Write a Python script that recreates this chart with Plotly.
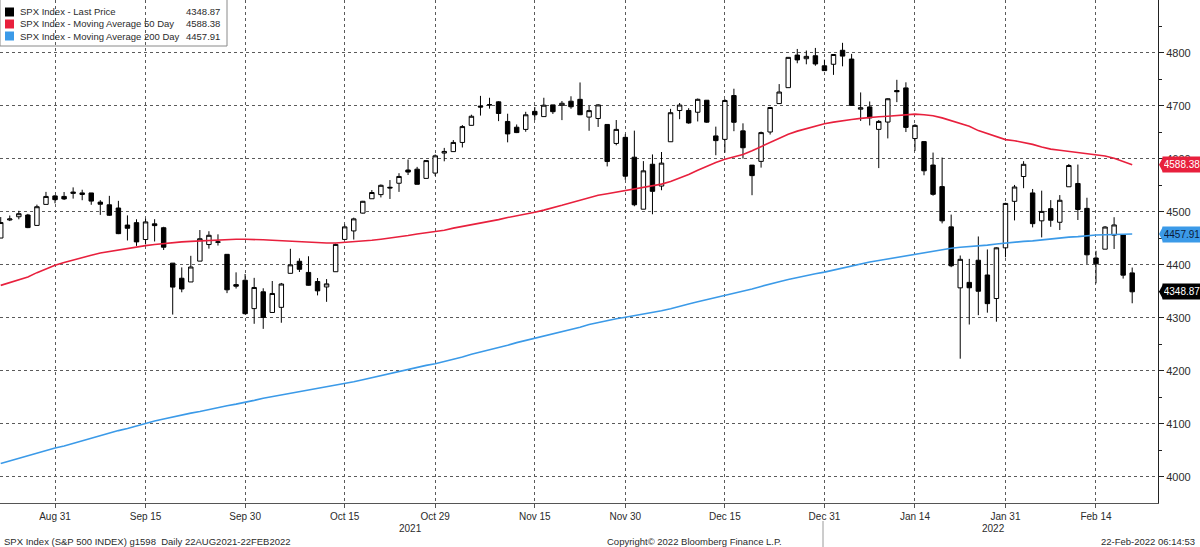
import plotly.graph_objects as go

# ---------------- data ----------------
dates = [
    "2021-08-23", "2021-08-24", "2021-08-25", "2021-08-26", "2021-08-27", "2021-08-30", "2021-08-31",
    "2021-09-01", "2021-09-02", "2021-09-03", "2021-09-07", "2021-09-08", "2021-09-09", "2021-09-10",
    "2021-09-13", "2021-09-14", "2021-09-15", "2021-09-16", "2021-09-17", "2021-09-20", "2021-09-21",
    "2021-09-22", "2021-09-23", "2021-09-24", "2021-09-27", "2021-09-28", "2021-09-29", "2021-09-30",
    "2021-10-01", "2021-10-04", "2021-10-05", "2021-10-06", "2021-10-07", "2021-10-08", "2021-10-11",
    "2021-10-12", "2021-10-13", "2021-10-14", "2021-10-15", "2021-10-18", "2021-10-19", "2021-10-20",
    "2021-10-21", "2021-10-22", "2021-10-25", "2021-10-26", "2021-10-27", "2021-10-28", "2021-10-29",
    "2021-11-01", "2021-11-02", "2021-11-03", "2021-11-04", "2021-11-05", "2021-11-08", "2021-11-09",
    "2021-11-10", "2021-11-11", "2021-11-12", "2021-11-15", "2021-11-16", "2021-11-17", "2021-11-18",
    "2021-11-19", "2021-11-22", "2021-11-23", "2021-11-24", "2021-11-26", "2021-11-29", "2021-11-30",
    "2021-12-01", "2021-12-02", "2021-12-03", "2021-12-06", "2021-12-07", "2021-12-08", "2021-12-09",
    "2021-12-10", "2021-12-13", "2021-12-14", "2021-12-15", "2021-12-16", "2021-12-17", "2021-12-20",
    "2021-12-21", "2021-12-22", "2021-12-23", "2021-12-27", "2021-12-28", "2021-12-29", "2021-12-30",
    "2021-12-31",
    "2022-01-03", "2022-01-04", "2022-01-05", "2022-01-06", "2022-01-07", "2022-01-10", "2022-01-11",
    "2022-01-12", "2022-01-13", "2022-01-14", "2022-01-18", "2022-01-19", "2022-01-20", "2022-01-21",
    "2022-01-24", "2022-01-25", "2022-01-26", "2022-01-27", "2022-01-28", "2022-01-31",
    "2022-02-01", "2022-02-02", "2022-02-03", "2022-02-04", "2022-02-07", "2022-02-08", "2022-02-09",
    "2022-02-10", "2022-02-11", "2022-02-14", "2022-02-15", "2022-02-16", "2022-02-17", "2022-02-18",
]

opens = [
    4450.29, 4484.40, 4490.45, 4493.75, 4474.10, 4513.76, 4529.75,
    4528.80, 4534.48, 4532.42, 4535.38, 4518.09, 4513.02, 4506.92, 4474.81, 4479.33, 4447.49, 4477.09,
    4469.74, 4402.95, 4374.45, 4367.43, 4406.75, 4438.04, 4442.12, 4419.54, 4362.41, 4370.67,
    4317.16, 4348.84, 4309.87, 4319.57, 4383.73, 4406.51, 4385.44, 4368.31, 4358.01, 4386.75, 4447.69,
    4463.72, 4497.34, 4524.42, 4532.24, 4546.12, 4553.69, 4578.69, 4580.22, 4562.84, 4572.87,
    4610.62, 4613.34, 4630.65, 4662.93, 4699.26, 4701.48, 4707.25, 4670.26, 4659.39, 4655.24, 4689.30,
    4679.42, 4701.50, 4700.72, 4708.44, 4712.00, 4678.48, 4675.78, 4664.63, 4628.75, 4640.25,
    4602.82, 4504.73, 4589.49, 4548.37, 4631.97, 4690.86, 4691.00, 4687.64, 4710.30, 4642.99, 4636.46,
    4719.13, 4652.50, 4587.90, 4594.96, 4650.36, 4703.96, 4733.99, 4795.49, 4788.64, 4794.23, 4775.21,
    4778.14, 4804.51, 4787.99, 4693.39, 4697.66, 4655.34, 4669.14, 4728.59, 4733.56, 4637.99, 4632.24,
    4588.03, 4547.35, 4471.38, 4356.32, 4366.64, 4408.43, 4380.58, 4336.19, 4431.79,
    4519.57, 4566.39, 4535.41, 4482.79, 4505.75, 4480.02, 4547.00, 4553.24, 4506.27, 4412.61, 4429.28,
    4455.75, 4456.06, 4384.57,
]

highs = [
    4489.88, 4492.81, 4501.71, 4495.90, 4513.33, 4537.36, 4531.39,
    4537.11, 4545.85, 4541.45, 4535.38, 4521.79, 4529.90, 4520.47, 4492.99, 4485.68, 4486.87, 4485.87,
    4471.52, 4402.95, 4394.87, 4416.75, 4465.40, 4463.12, 4457.30, 4419.54, 4385.57, 4382.55,
    4375.19, 4355.51, 4369.23, 4365.57, 4429.97, 4412.02, 4415.88, 4374.89, 4372.87, 4439.73, 4475.82,
    4488.75, 4520.40, 4540.87, 4551.44, 4559.67, 4572.62, 4598.53, 4584.57, 4597.55, 4608.08,
    4620.34, 4635.15, 4663.46, 4683.00, 4718.50, 4714.92, 4708.53, 4684.85, 4664.55, 4688.47, 4697.42,
    4714.95, 4701.50, 4708.80, 4717.75, 4743.83, 4699.39, 4702.87, 4664.63, 4672.95, 4646.02,
    4652.94, 4595.46, 4608.03, 4612.60, 4694.04, 4705.06, 4695.26, 4713.57, 4710.30, 4660.47, 4712.60,
    4731.99, 4666.70, 4587.90, 4651.14, 4697.67, 4740.74, 4791.49, 4807.02, 4804.06, 4808.93, 4786.83,
    4796.64, 4818.62, 4797.70, 4725.01, 4707.95, 4673.02, 4714.13, 4748.83, 4744.13, 4665.13, 4632.24,
    4611.55, 4602.11, 4494.52, 4417.35, 4411.01, 4453.23, 4428.74, 4432.72, 4516.89,
    4550.49, 4595.31, 4542.88, 4539.66, 4521.86, 4531.32, 4590.03, 4588.92, 4526.33, 4426.22, 4472.77,
    4489.55, 4456.06, 4394.60,
]

lows = [
    4450.29, 4482.28, 4485.66, 4468.99, 4474.10, 4513.76, 4515.80,
    4522.02, 4524.66, 4521.65, 4513.00, 4493.95, 4492.07, 4457.66, 4445.70, 4435.46, 4438.37, 4443.80,
    4427.76, 4305.91, 4347.96, 4367.43, 4406.75, 4430.27, 4436.19, 4346.33, 4355.08, 4306.24,
    4288.52, 4278.94, 4309.87, 4290.49, 4383.73, 4386.22, 4360.59, 4342.09, 4329.92, 4386.75, 4447.69,
    4447.47, 4496.41, 4524.40, 4526.89, 4524.00, 4537.36, 4569.17, 4551.66, 4562.84, 4567.59,
    4595.06, 4613.34, 4621.19, 4662.59, 4681.32, 4694.39, 4670.87, 4630.86, 4648.31, 4650.77, 4672.86,
    4679.42, 4684.41, 4672.78, 4694.22, 4682.17, 4652.66, 4659.89, 4585.43, 4625.26, 4560.00,
    4510.27, 4504.73, 4495.12, 4540.51, 4631.97, 4674.52, 4665.98, 4670.24, 4667.60, 4606.52, 4611.22,
    4651.89, 4600.22, 4531.10, 4583.16, 4645.53, 4703.96, 4733.99, 4780.04, 4778.08, 4775.33, 4765.75,
    4758.17, 4774.27, 4699.44, 4671.26, 4662.74, 4582.24, 4638.27, 4706.71, 4650.29, 4614.75, 4568.70,
    4530.20, 4477.95, 4395.34, 4222.62, 4287.11, 4304.80, 4309.50, 4292.46, 4414.02,
    4483.53, 4544.32, 4470.39, 4451.50, 4471.47, 4465.40, 4547.00, 4484.31, 4401.41, 4364.84, 4429.28,
    4429.68, 4373.81, 4327.22,
]

closes = [
    4479.53, 4486.23, 4496.19, 4470.00, 4509.37, 4528.79, 4522.68,
    4524.09, 4536.95, 4535.43, 4520.03, 4514.07, 4493.28, 4458.58, 4468.73, 4443.05, 4480.70, 4473.75,
    4432.99, 4357.73, 4354.19, 4395.64, 4448.98, 4455.48, 4443.11, 4352.63, 4359.46, 4307.54,
    4357.04, 4300.46, 4345.72, 4363.55, 4399.76, 4391.34, 4361.19, 4350.65, 4363.80, 4438.26, 4471.37,
    4486.46, 4519.63, 4536.19, 4549.78, 4544.90, 4566.48, 4574.79, 4551.68, 4596.42, 4605.38,
    4613.67, 4630.65, 4660.57, 4680.06, 4697.53, 4701.70, 4685.25, 4646.71, 4649.27, 4682.85, 4682.80,
    4700.90, 4688.67, 4704.54, 4697.96, 4682.94, 4690.70, 4701.46, 4594.62, 4655.27, 4567.00,
    4513.04, 4577.10, 4538.43, 4591.67, 4686.75, 4701.21, 4667.45, 4712.02, 4668.97, 4634.09, 4709.85,
    4668.67, 4620.64, 4568.02, 4649.23, 4696.56, 4725.79, 4791.19, 4786.35, 4793.06, 4778.73, 4766.18,
    4796.56, 4793.54, 4700.58, 4696.05, 4677.03, 4670.29, 4713.07, 4726.35, 4659.03, 4662.85, 4577.11,
    4532.76, 4482.73, 4397.94, 4410.13, 4356.45, 4349.93, 4326.51, 4431.85, 4515.55,
    4546.54, 4589.38, 4477.44, 4500.53, 4483.87, 4521.54, 4587.18, 4504.08, 4418.64, 4401.67, 4471.07,
    4475.01, 4380.26, 4348.87,
]

ma50 = [
    4361, 4366, 4371, 4377, 4385, 4392, 4399, 4404, 4409, 4414,
    4418, 4422, 4425, 4428, 4430, 4433, 4436, 4438, 4440, 4442,
    4443, 4444, 4445, 4446, 4447, 4447.5, 4448, 4448, 4448, 4447,
    4446, 4445, 4444, 4443, 4442, 4441, 4441, 4441, 4442, 4443,
    4445, 4446, 4448, 4450, 4452, 4455, 4458, 4460, 4462, 4465,
    4469, 4472, 4475, 4478, 4482, 4485, 4489, 4492, 4496, 4499,
    4503, 4507, 4512, 4517, 4522, 4527, 4531, 4534, 4537, 4539,
    4542, 4545, 4548, 4552, 4557, 4563, 4570, 4578, 4586, 4593,
    4599, 4603, 4608, 4615, 4623, 4631, 4639, 4646, 4652, 4657,
    4662, 4666, 4669, 4672, 4674, 4676, 4678, 4679, 4680, 4681,
    4683, 4684, 4683, 4681, 4677, 4672, 4667, 4661, 4653, 4647,
    4641, 4636, 4634, 4631, 4627, 4622, 4618, 4616, 4614, 4612,
    4610, 4608, 4605, 4601, 4595, 4588.38,
]

ma200 = [
    4025, 4030, 4035, 4040, 4044, 4049, 4054, 4058, 4063, 4067,
    4072, 4077, 4082, 4087, 4091, 4096, 4101, 4105, 4109, 4113,
    4117, 4120, 4123, 4127, 4130, 4134, 4137, 4140, 4144, 4148,
    4151, 4155, 4158, 4160, 4163, 4166, 4169, 4172, 4175, 4179,
    4183, 4187, 4191, 4195, 4199, 4203, 4207, 4210, 4213, 4217,
    4222, 4226, 4231, 4235, 4240, 4244, 4248, 4253, 4257, 4262,
    4266, 4270, 4274, 4278, 4282, 4287, 4291, 4295, 4298, 4301,
    4304, 4306, 4309, 4313, 4317, 4322, 4326, 4330, 4334, 4337,
    4341, 4345, 4350, 4354, 4359, 4364, 4368, 4372, 4376, 4380,
    4383, 4386, 4390, 4394, 4398, 4401, 4405, 4408, 4411, 4414,
    4417, 4420, 4423, 4426, 4429, 4431, 4433, 4434, 4436, 4437,
    4439, 4441, 4442, 4444, 4445, 4447, 4449, 4450, 4452, 4453,
    4455, 4456, 4456.5, 4457, 4457.5, 4457.91,
]

tick_dates = ["2021-08-31", "2021-09-15", "2021-09-30", "2021-10-15", "2021-10-29", "2021-11-15",
              "2021-11-30", "2021-12-15", "2021-12-31", "2022-01-14", "2022-01-31", "2022-02-14"]
tick_labels = ["Aug 31", "Sep 15", "Sep 30", "Oct 15", "Oct 29", "Nov 15",
               "Nov 30", "Dec 15", "Dec 31", "Jan 14", "Jan 31", "Feb 14"]

legend_names = ["SPX Index - Last Price",
                "SPX Index - Moving Average 50 Day",
                "SPX Index - Moving Average 200 Day"]
last_values = [4348.87, 4588.38, 4457.91]

# ---------------- styling ----------------
RED = "#e8203d"
BLUE = "#3b9ae8"
FONT = "Liberation Sans, Arial, sans-serif"
TXT = "#2b2b2b"

W, H = 1200, 547
ML, MR, MT, MB = 0, 42, 0, 44
PW = W - ML - MR
PH = H - MT - MB


def px(X):
    return (X - ML) / PW


def py(Y):
    return 1 - (Y - MT) / PH


fig = go.Figure()

fig.add_trace(go.Candlestick(
    x=dates, open=opens, high=highs, low=lows, close=closes,
    increasing=dict(line=dict(color="#000000", width=1), fillcolor="#ffffff"),
    decreasing=dict(line=dict(color="#000000", width=1), fillcolor="#000000"),
    whiskerwidth=0, showlegend=False, hoverinfo="skip",
))
fig.add_trace(go.Scatter(x=dates, y=ma50, mode="lines",
                         line=dict(color=RED, width=1.6), showlegend=False, hoverinfo="skip"))
fig.add_trace(go.Scatter(x=dates, y=ma200, mode="lines",
                         line=dict(color=BLUE, width=1.6), showlegend=False, hoverinfo="skip"))

shapes = []
annotations = []

# legend box
shapes.append(dict(type="rect", xref="paper", yref="paper", layer="below",
                   x0=px(0), x1=px(227), y0=py(46), y1=py(-2),
                   line=dict(color="#8a8a8a", width=1), fillcolor="white"))
row_y = [12, 24, 36]
colors = ["#000000", RED, BLUE]
for name, val, c, ry in zip(legend_names, last_values, colors, row_y):
    shapes.append(dict(type="rect", xref="paper", yref="paper", layer="above",
                       x0=px(5), x1=px(14), y0=py(ry + 4.5), y1=py(ry - 4.5),
                       line=dict(width=0), fillcolor=c))
    annotations.append(dict(xref="paper", yref="paper", x=px(18), y=py(ry), text=name,
                            showarrow=False, xanchor="left", yanchor="middle",
                            font=dict(family=FONT, size=9.5, color=TXT)))
    annotations.append(dict(xref="paper", yref="paper", x=px(222), y=py(ry), text=f"{val:.2f}",
                            showarrow=False, xanchor="right", yanchor="middle",
                            font=dict(family=FONT, size=9.5, color=TXT)))

# right-axis value tags
tags = [(last_values[1], RED, "white"), (last_values[2], BLUE, "#0b1a3a"), (last_values[0], "#000000", "white")]
for val, bg, fg in tags:
    shapes.append(dict(type="path", xref="paper", yref="y", xsizemode="pixel", ysizemode="pixel",
                       xanchor=1, yanchor=val, path="M 1 0 L 5 7.5 L 5 -7.5 Z",
                       fillcolor=bg, line=dict(width=0), layer="above"))
    annotations.append(dict(xref="paper", yref="y", x=1, y=val, xanchor="left", yanchor="middle",
                            xshift=4, text=f"{val:.2f}", showarrow=False, bgcolor=bg,
                            width=36, height=13, borderpad=1,
                            font=dict(family=FONT, size=10, color=fg)))

# year labels and separator
annotations.append(dict(xref="paper", yref="paper", x=px(410), y=py(528), text="2021", showarrow=False,
                        xanchor="center", yanchor="middle", font=dict(family=FONT, size=10, color=TXT)))
annotations.append(dict(xref="paper", yref="paper", x=px(993), y=py(528), text="2022", showarrow=False,
                        xanchor="center", yanchor="middle", font=dict(family=FONT, size=10, color=TXT)))
shapes.append(dict(type="line", xref="paper", yref="paper", x0=px(823), x1=px(823),
                   y0=py(521), y1=py(547), line=dict(color="#9a9a9a", width=1)))

# footer
annotations.append(dict(xref="paper", yref="paper", x=px(2), y=py(541),
                        text="SPX Index (S&amp;P 500 INDEX) g1598  Daily 22AUG2021-22FEB2022",
                        showarrow=False, xanchor="left", yanchor="middle",
                        font=dict(family=FONT, size=9.5, color=TXT)))
annotations.append(dict(xref="paper", yref="paper", x=px(605), y=py(541),
                        text="Copyright© 2022 Bloomberg Finance L.P.",
                        showarrow=False, xanchor="left", yanchor="middle",
                        font=dict(family=FONT, size=9.5, color=TXT)))
annotations.append(dict(xref="paper", yref="paper", x=px(1197), y=py(541),
                        text="22-Feb-2022 06:14:53",
                        showarrow=False, xanchor="right", yanchor="middle",
                        font=dict(family=FONT, size=9.5, color=TXT)))

fig.update_layout(
    width=W, height=H,
    margin=dict(l=ML, r=MR, t=MT, b=MB, pad=0),
    paper_bgcolor="white", plot_bgcolor="rgba(0,0,0,0)",
    showlegend=False,
    shapes=shapes, annotations=annotations,
    boxgap=0.3,
    xaxis=dict(
        type="category", range=[-0.08, 127.85],
        rangeslider=dict(visible=False),
        tickmode="array", tickvals=tick_dates, ticktext=tick_labels,
        showgrid=True, gridcolor="#5a5a5a", griddash="dot", gridwidth=1,
        showline=True, linecolor="#555555", linewidth=1,
        ticks="outside", ticklen=4, tickcolor="#555555",
        tickfont=dict(family=FONT, size=10, color=TXT),
        zeroline=False, fixedrange=True,
    ),
    yaxis=dict(
        side="right", range=[3950.4, 4899.4],
        tickmode="linear", tick0=0, dtick=100,
        showgrid=True, gridcolor="#5a5a5a", griddash="dot", gridwidth=1,
        showline=True, linecolor="#222222", linewidth=1,
        ticks="outside", ticklen=5, tickcolor="#222222",
        minor=dict(dtick=50, ticks="outside", ticklen=3, tickcolor="#222222", showgrid=False),
        tickfont=dict(family=FONT, size=11, color=TXT),
        zeroline=False, fixedrange=True,
    ),
)

fig.write_html("out.html")
